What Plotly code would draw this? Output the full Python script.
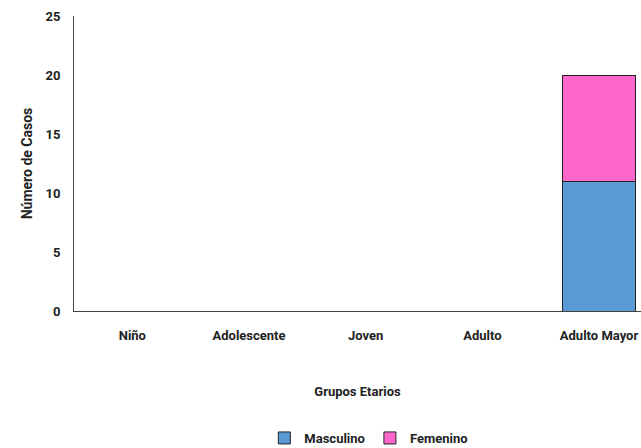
import plotly.graph_objects as go

categories = ["Niño", "Adolescente", "Joven", "Adulto", "Adulto Mayor"]
masculino = [0, 0, 0, 0, 11]
femenino = [0, 0, 0, 0, 9]
y_ticks = [0, 5, 10, 15, 20, 25]

FONT = "Roboto, Liberation Sans, sans-serif"

fig = go.Figure()
fig.add_trace(go.Bar(x=categories, y=masculino, name="<b>Masculino</b>",
                     marker=dict(color="#5B9BD5", line=dict(color="#222222", width=1))))
fig.add_trace(go.Bar(x=categories, y=femenino, name="<b>Femenino</b>",
                     marker=dict(color="#FF66CC", line=dict(color="#222222", width=1))))

fig.update_layout(
    width=641, height=448,
    barmode="stack", bargap=0.38,
    paper_bgcolor="white", plot_bgcolor="white",
    margin=dict(l=74, r=0, t=16, b=137, autoexpand=False),
    font=dict(family=FONT, size=13, color="#222222"),
    showlegend=True,
    legend=dict(orientation="h", x=0.52, xanchor="center",
                yref="container", y=10 / 448, yanchor="middle",
                font=dict(size=13, family=FONT), itemwidth=30, traceorder="normal"),
    xaxis=dict(
        range=[-0.5, 4.36], automargin=False,
        showline=True, linecolor="#444444", linewidth=1,
        showgrid=False, ticks="",
        tickfont=dict(size=13, family=FONT),
        ticklabelstandoff=12,
        tickvals=categories,
        ticktext=["<b>%s</b>" % c for c in categories],
        title=dict(text="<b>Grupos Etarios</b>", standoff=45, font=dict(size=13, family=FONT)),
    ),
    yaxis=dict(
        range=[0, 25], automargin=False,
        tickvals=y_ticks,
        ticktext=["<b>%d</b>" % v for v in y_ticks],
        showline=True, linecolor="#444444", linewidth=1,
        showgrid=False, zeroline=False, ticks="",
        ticklabelstandoff=10,
        tickfont=dict(size=13, family=FONT),
        title=dict(text="<b>Número de Casos</b>", standoff=9, font=dict(size=14, family=FONT)),
    ),
)

fig.write_html("out.html", config={"displayModeBar": False},
               post_script="document.body.style.margin='0';document.body.style.overflow='hidden';")
